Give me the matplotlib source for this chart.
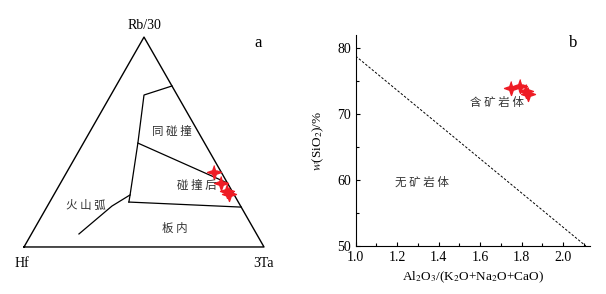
import matplotlib.pyplot as plt
import numpy as np

plt.rcParams['font.family'] = ['Liberation Serif', 'Noto Sans CJK SC']
plt.rcParams['mathtext.fontset'] = 'stix'
cjk = ['Noto Sans CJK SC', 'DejaVu Sans']

# ternary data (Rb/30, Hf, 3Ta fractions)
# field boundaries
bound_top_rb = [0.767, 0.724, 0.495, 0.248, 0.214]
bound_top_ta = [0.233, 0.138, 0.227, 0.318, 0.330]
mid_rb = [0.495, 0.305]
mid_ta = [0.227, 0.695]
low_rb = [0.214, 0.190]
low_ta = [0.330, 0.810]
arc_rb = [0.248, 0.195, 0.062]
arc_ta = [0.318, 0.269, 0.198]
# samples
samp_rb = [0.357, 0.305, 0.267, 0.252]
samp_ta = [0.613, 0.668, 0.712, 0.728]

# panel b data
al_ratio = [1.75, 1.79, 1.823, 1.83]
sio2 = [74.0, 74.3, 73.5, 73.1]
div_x = [1.0, 2.11]
div_y = [78.8, 50.0]

H = np.sqrt(3) / 2


def tern(rb, ta):
    rb = np.asarray(rb)
    ta = np.asarray(ta)
    return ta + 0.5 * rb, rb * H


# 4-point star marker
ang = np.linspace(0, 2 * np.pi, 9)[:-1] + np.pi / 2
rad = np.array([1, 0.36] * 4)
star = list(zip(rad * np.cos(ang), rad * np.sin(ang)))

fig = plt.figure(figsize=(6.06, 2.94), dpi=100)

###############################################################################
# a: ternary

ax = fig.add_axes([0, 0, 300 / 606, 1])
ax.axis('off')
ax.set_xlim(-0.1, 1.15)
ax.set_ylim(-0.194, 1.019)

ax.plot([0, 1, 0.5, 0], [0, 0, H, 0], color='k', lw=1)
for rb, ta in [(bound_top_rb, bound_top_ta), (mid_rb, mid_ta),
               (low_rb, low_ta), (arc_rb, arc_ta)]:
    x, y = tern(rb, ta)
    ax.plot(x, y, color='k', lw=0.9)

x, y = tern(samp_rb, samp_ta)
ax.plot(x, y, ls='none', marker=star, ms=10, color='#ee1c25', mec='#ee1c25')

ax.text(0.5, H + 0.02, 'Rb/30', ha='center', va='bottom', fontsize=10)
ax.text(-0.01, -0.04, 'Hf', ha='center', va='top', fontsize=10)
ax.text(1.0, -0.04, '3Ta', ha='center', va='top', fontsize=10)
ax.text(0.975, 0.84, 'a', ha='center', va='center', fontsize=12)
zh = dict(ha='center', va='center', fontsize=8.3, family=cjk, color='#333333', fontweight='light')
ax.text(0.617, 0.475, '同 碰 撞', **zh)
ax.text(0.72, 0.253, '碰 撞 后', **zh)
ax.text(0.258, 0.173, '火 山 弧', **zh)
ax.text(0.63, 0.078, '板 内', **zh)

###############################################################################
# b: SiO2 vs Al2O3/(K2O+Na2O+CaO)

bx = fig.add_axes([355.7 / 606, (294 - 246) / 294, (590 - 355.7) / 606, (246 - 35) / 294])
bx.set_xlim(1.0, 2.13)
bx.set_ylim(50, 82)
bx.spines['top'].set_visible(False)
bx.spines['right'].set_visible(False)
bx.set_xticks(np.arange(1.0, 2.01, 0.2))
bx.set_xticks(np.arange(1.1, 2.11, 0.1), minor=True)
bx.set_yticks([50, 60, 70, 80])
bx.set_yticks([55, 65, 75], minor=True)
bx.tick_params(which='both', direction='in', labelsize=10, length=3, width=0.8)
bx.tick_params(which='minor', length=2)
bx.set_xticklabels(['1.0', '1.2', '1.4', '1.6', '1.8', '2.0'])

bx.plot(div_x, div_y, color='k', ls=(0, (2.5, 1.8)), lw=0.7)
bx.plot(al_ratio, sio2, ls='none', marker=star, ms=10, color='#ee1c25', mec='#ee1c25')

bx.text(1.683, 71.8, '含 矿 岩 体', **zh)
bx.text(1.32, 59.7, '无 矿 岩 体', **zh)
bx.text(2.05, 80.8, 'b', ha='center', va='center', fontsize=12)

bx.set_xlabel(r'Al$_2$O$_3$/(K$_2$O+Na$_2$O+CaO)', fontsize=9.5, labelpad=4)
bx.set_ylabel(r'$w$(SiO$_2$)/%', fontsize=9.5, labelpad=8)

plt.savefig('out.png', dpi=100)
